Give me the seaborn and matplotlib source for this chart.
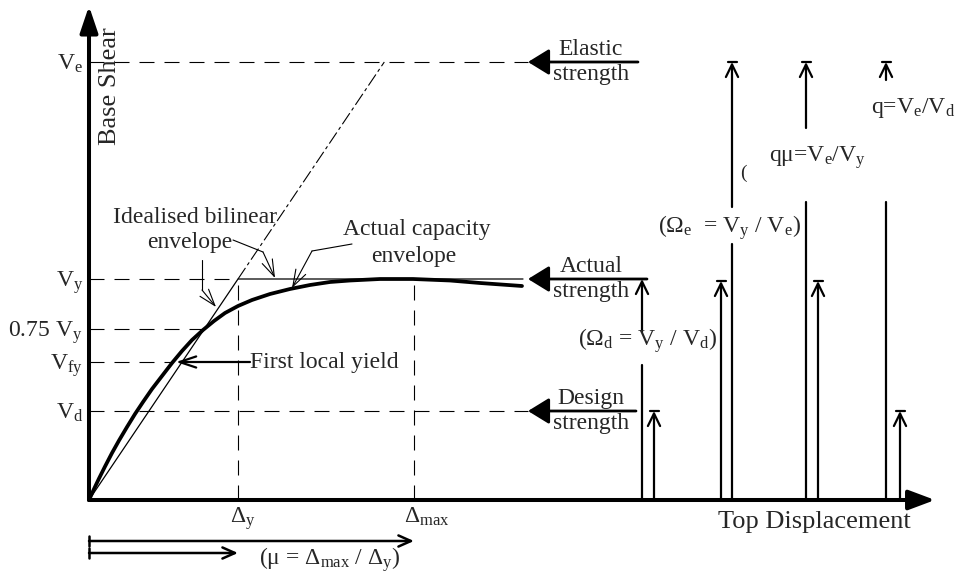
import numpy as np
import seaborn as sns
import matplotlib.pyplot as plt

# schematic values (units: px from the axes corner)
level_labels = [r'V$_\mathrm{e}$', r'V$_\mathrm{y}$', r'0.75 V$_\mathrm{y}$', r'V$_\mathrm{fy}$', r'V$_\mathrm{d}$']
V_e, V_y, V_75, V_fy, V_d = 438, 221, 171, 138, 89
level_vals = [V_e, V_y, V_75, V_fy, V_d]
d_y, d_max = 149, 325
plateau_end = 434

curve_x = [0, 5, 10, 16, 23, 30, 38, 46, 54, 63, 73, 83, 93, 103, 114, 125, 136, 149,
           163, 181, 201, 221, 241, 261, 291, 324, 361, 391, 433]
curve_y = [0, 11, 21.5, 33.5, 47, 59.5, 73, 86, 98, 111, 124, 137, 149, 160, 170, 179, 187, 194,
           200, 206, 211, 215, 218, 219.5, 221, 221, 219.5, 217, 214]

sns.set_theme(style='white')
plt.rcParams['font.family'] = ['Liberation Serif', 'DejaVu Serif']
plt.rcParams['mathtext.fontset'] = 'custom'
plt.rcParams['mathtext.rm'] = 'Liberation Serif'
plt.rcParams['mathtext.it'] = 'Liberation Serif:italic'

fig = plt.figure(figsize=(9.55, 5.77), dpi=100)
ax = fig.add_axes([0, 0, 1, 1])
ax.set_xlim(-89, 866)
ax.set_ylim(-77, 500)
ax.axis('off')
K = 'black'
FS = 17


def arrow(x0, y0, x1, y1, style='->', hl=0.4, hw=0.15, lw=1.6):
    ax.annotate('', xy=(x1, y1), xytext=(x0, y0),
                arrowprops=dict(arrowstyle=f'{style},head_length={hl},head_width={hw}',
                                mutation_scale=20, lw=lw, color=K, shrinkA=0, shrinkB=0))


def up_arrow(x, y0, y1, cap=True):
    arrow(x, y0, x, y1, hl=0.45, hw=0.22, lw=1.6)
    if cap:
        ax.plot([x - 4.5, x + 4.5], [y1, y1], color=K, lw=1.6)


# axes
arrow(0, 0, 0, 494, style='-|>', hl=0.8, hw=0.27, lw=2.9)
arrow(0, 0, 846, 0, style='-|>', hl=0.8, hw=0.3, lw=2.9)
ax.text(21, 414, 'Base Shear', rotation=90, ha='center', va='center', fontsize=19)
ax.text(725, -28, 'Top Displacement', ha='center', va='baseline', fontsize=19)

# capacity curve and idealised bilinear envelope
sns.lineplot(x=curve_x, y=curve_y, sort=False, color=K, lw=2.7, ax=ax)
sns.lineplot(x=[0, d_y, plateau_end], y=[0, V_y, V_y], sort=False, color=K, lw=0.9, ax=ax)
slope = V_y / d_y
ax.plot([d_y, V_e / slope], [V_y, V_e], color=K, lw=0.8, ls=(0, (12, 3, 3, 3)))

# dashed reference levels
dash = (0, (13.5, 9))
x_75 = np.interp(V_75, curve_y[:18], curve_x[:18])
x_fy = np.interp(V_fy, curve_y[:18], curve_x[:18])
level_ends = [439, d_y, x_75, x_fy, 439]
for v, e in zip(level_vals, level_ends):
    ax.plot([0, e], [v, v], color=K, lw=0.8, ls=dash)
for d in (d_y, d_max):
    ax.plot([d, d], [0, V_y], color=K, lw=0.8, ls=dash)
for lab, v in zip(level_labels, level_vals):
    ax.text(-6, v - 8, lab, ha='right', va='baseline', fontsize=FS)

# strength labels with arrows
for v, top, bot, x_end in [(V_e, 'Elastic', 'strength', 549), (V_y, 'Actual', 'strength', 558),
                           (V_d, 'Design', 'strength', 547)]:
    arrow(x_end, v, 439, v, style='-|>', hl=0.65, hw=0.4, lw=2.0)
    ax.text(502, v + 7, top, ha='center', va='baseline', fontsize=FS)
    ax.text(502, v - 18, bot, ha='center', va='baseline', fontsize=FS)

# ratio bars on the right
ax.plot([553, 553], [0, 135], color=K, lw=1.6)
up_arrow(553, 168, V_y, cap=False)
up_arrow(565, 0, V_d)
up_arrow(632, 0, V_y - 2)
ax.plot([643, 643], [0, 256], color=K, lw=1.6)
up_arrow(643, 293, V_e)
ax.plot([717, 717], [0, 298], color=K, lw=1.6)
up_arrow(717, 372, V_e)
up_arrow(729, 0, V_y - 2)
ax.plot([797, 797], [0, 298], color=K, lw=1.6)
up_arrow(797, 420, V_e)
up_arrow(811, 0, V_d)

ax.text(558, 154, r'($\Omega_\mathrm{d}$ = V$_\mathrm{y}$ / V$_\mathrm{d}$)', ha='center', va='baseline', fontsize=FS)
ax.text(641, 267, r'($\Omega_\mathrm{e}$  = V$_\mathrm{y}$ / V$_\mathrm{e}$)', ha='center', va='baseline', fontsize=FS)
ax.text(654, 327, '(', ha='center', va='center', fontsize=14)
ax.text(728, 338, r'qμ=V$_\mathrm{e}$/V$_\mathrm{y}$', ha='center', va='baseline', fontsize=FS)
ax.text(824, 387, r'q=V$_\mathrm{e}$/V$_\mathrm{d}$', ha='center', va='baseline', fontsize=FS)

# displacement labels and ductility arrows
ax.text(154, -23, r'Δ$_\mathrm{y}$', ha='center', va='baseline', fontsize=FS)
ax.text(338, -23, r'Δ$_\mathrm{max}$', ha='center', va='baseline', fontsize=FS)
arrow(0, -41, d_max, -41, hl=0.45, hw=0.2, lw=1.8)
arrow(0, -53, d_y, -53, hl=0.45, hw=0.2, lw=1.8)
for yy in (-41, -53):
    ax.plot([0, 0], [yy - 5, yy + 5], color=K, lw=1.8)
ax.text(241, -65, r'(μ = Δ$_\mathrm{max}$ / Δ$_\mathrm{y}$)', ha='center', va='baseline', fontsize=FS)

# callouts
ax.text(106, 277, 'Idealised bilinear', ha='center', va='baseline', fontsize=FS)
ax.text(101, 252, 'envelope', ha='center', va='baseline', fontsize=FS)
ax.plot([144, 174], [260, 248], color=K, lw=0.8)
arrow(174, 248, 186, 222, hl=0.6, hw=0.2, lw=0.8)
ax.plot([113, 113], [240, 210], color=K, lw=0.8)
arrow(113, 210, 127, 193, hl=0.6, hw=0.2, lw=0.8)

ax.text(328, 265, 'Actual capacity', ha='center', va='baseline', fontsize=FS)
ax.text(325, 238, 'envelope', ha='center', va='baseline', fontsize=FS)
ax.plot([263, 223], [256, 249], color=K, lw=0.8)
arrow(223, 249, 203, 212, hl=0.6, hw=0.2, lw=0.8)

ax.text(161, 132, 'First local yield', ha='left', va='baseline', fontsize=FS)
arrow(161, V_fy, 87, V_fy, hl=0.6, hw=0.2, lw=1.6)

fig.savefig('out.png', dpi=100)
